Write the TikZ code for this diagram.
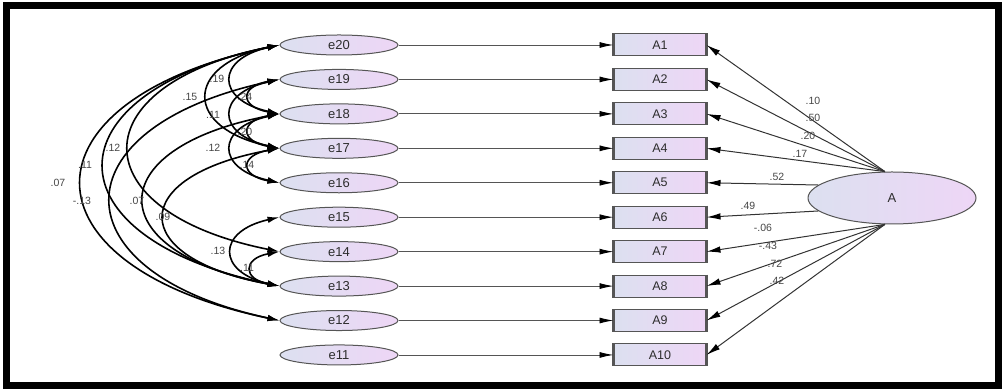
\documentclass[tikz,border=0pt]{standalone}
\usepackage{fontspec}
\setmainfont{Liberation Sans}
\usetikzlibrary{arrows.meta,shapes.geometric}
\definecolor{fillL}{RGB}{220,224,240}
\definecolor{fillR}{RGB}{238,214,246}
\definecolor{edgec}{RGB}{85,85,85}
\definecolor{txtc}{RGB}{45,45,45}
\definecolor{labc}{RGB}{70,70,70}
\begin{document}
\begin{tikzpicture}[x=1pt,y=1pt,
  errnode/.style={ellipse, draw=edgec, line width=1pt, minimum width=118pt, minimum height=20pt, inner sep=0pt, left color=fillL, right color=fillR, font=\fontsize{13}{13}\selectfont, text=txtc},
  obsnode/.style={rectangle, draw=edgec, line width=1pt, minimum width=92pt, minimum height=22pt, inner sep=0pt, left color=fillL, right color=fillR, font=\fontsize{12.5}{12.5}\selectfont, text=txtc},
  latnode/.style={ellipse, draw=edgec, line width=1pt, minimum width=168pt, minimum height=52pt, inner sep=0pt, left color=fillL, right color=fillR, font=\fontsize{13}{13}\selectfont, text=txtc},
  regarrow/.style={draw=edgec, line width=0.9pt, -{Latex[length=14pt,width=6pt,black]}},
  latarrow/.style={draw=black!80, line width=1pt, -{Latex[length=14pt,width=6.5pt,black]}},
  covarrow/.style={draw=black, line width=1.6pt, {Latex[length=12pt,width=6.5pt]}-{Latex[length=12pt,width=6.5pt]}},
  coeff/.style={font=\fontsize{10.5}{10.5}\selectfont, text=labc, inner sep=1pt},
  sidebar/.style={draw=edgec, line width=2.6pt}
]
\useasboundingbox (0,0) rectangle (1005,390);
\draw[line width=7pt] (6.5,4) rectangle (998.5,384.5);

% error ellipses and observed boxes
\foreach \i in {0,...,9}{
  \pgfmathtruncatemacro{\en}{20-\i}
  \pgfmathtruncatemacro{\an}{\i+1}
  \pgfmathsetmacro{\yy}{345-34.44*\i}
  \node[errnode] (e\en) at (339,\yy) {e\en};
  \node[obsnode] (A\an) at (660,\yy) {A\an};
  \draw[sidebar] (A\an.north west) -- (A\an.south west);
  \draw[sidebar] (A\an.north east) -- (A\an.south east);
  \draw[regarrow] (e\en.east) -- (A\an.west);
}

% latent variable
\node[latnode] (A) at (892,192) {A};
\foreach \k in {1,2,3,4}{\draw[latarrow] (A.105) -- (A\k.east);}
\draw[latarrow] (A.170) -- (A5.east);
\draw[latarrow] (A.190) -- (A6.east);
\foreach \k in {7,8,9,10}{\draw[latarrow] (A.255) -- (A\k.east);}

\node[coeff] (l1) at (813,289) {.10};
\node[coeff] (l2) at (813,272) {.50};
\node[coeff] (l3) at (808,254) {.20};
\node[coeff] (l4) at (800,236) {.17};
\node[coeff] (l5) at (777,213) {.52};
\node[coeff] (l6) at (748,184) {.49};
\node[coeff] (l7) at (763,162) {-.06};
\node[coeff] (l8) at (768,144) {-.43};
\node[coeff] (l9) at (775,126) {.72};
\node[coeff] (l10) at (777,109) {.42};

% covariances
\draw[covarrow] (e20.west) .. controls +(-64,-14) and +(-64,14) .. (e18.west);
\draw[covarrow] (e20.west) .. controls +(-96,-20) and +(-96,20) .. (e17.west);
\draw[covarrow] (e19.west) .. controls +(-40,-7) and +(-40,7) .. (e18.west);
\draw[covarrow] (e19.west) .. controls +(-64,-14) and +(-64,14) .. (e17.west);
\draw[covarrow] (e18.west) .. controls +(-40,-7) and +(-40,7) .. (e17.west);
\draw[covarrow] (e18.west) .. controls +(-64,-14) and +(-64,14) .. (e16.west);
\draw[covarrow] (e17.west) .. controls +(-40,-7) and +(-40,7) .. (e16.west);
\draw[covarrow] (e20.west) .. controls +(-200,-40) and +(-200,40) .. (e14.west);
\draw[covarrow] (e20.west) .. controls +(-233,-48) and +(-233,48) .. (e13.west);
\draw[covarrow] (e20.west) .. controls +(-263,-55) and +(-263,55) .. (e12.west);
\draw[covarrow] (e19.west) .. controls +(-224,-48) and +(-224,48) .. (e12.west);
\draw[covarrow] (e18.west) .. controls +(-180,-34) and +(-180,34) .. (e13.west);
\draw[covarrow] (e17.west) .. controls +(-153,-28) and +(-153,28) .. (e13.west);
\draw[covarrow] (e15.west) .. controls +(-63,-14) and +(-63,14) .. (e13.west);
\draw[covarrow] (e14.west) .. controls +(-37,-7) and +(-37,7) .. (e13.west);

\node[coeff] (c1) at (217,311) {.19};
\node[coeff] (c2) at (190,293) {.15};
\node[coeff] (c3) at (245,293) {.24};
\node[coeff] (c4) at (213,275) {.11};
\node[coeff] (c5) at (245,258) {.20};
\node[coeff] (c6) at (213,242) {.12};
\node[coeff] (c7) at (247,225) {.14};
\node[coeff] (c8) at (113,242) {.12};
\node[coeff] (c9) at (85,225) {.11};
\node[coeff] (c10) at (58,207) {.07};
\node[coeff] (c11) at (82,189) {-.13};
\node[coeff] (c12) at (137,189) {.07};
\node[coeff] (c13) at (163,173) {.09};
\node[coeff] (c14) at (218,139) {.13};
\node[coeff] (c15) at (247,122) {.11};
\end{tikzpicture}
\end{document}
